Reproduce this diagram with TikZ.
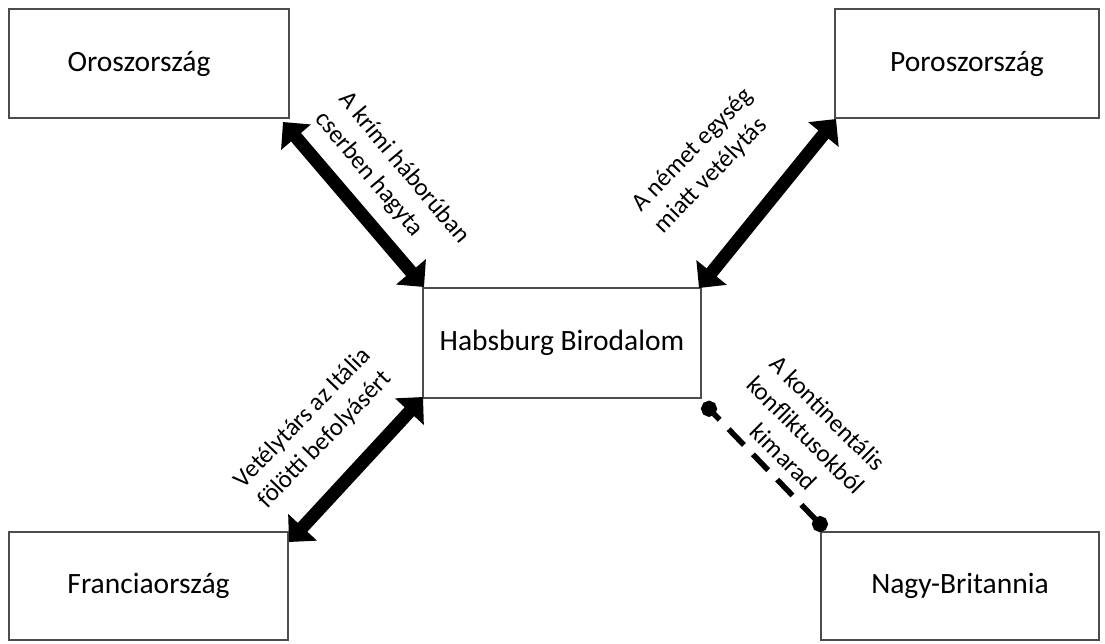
\documentclass[tikz,border=0pt]{standalone}
\usepackage{fontspec}
\setmainfont{Carlito}
\usetikzlibrary{arrows.meta}
\begin{document}
\begin{tikzpicture}[x=1pt,y=-1pt,
  box/.style={draw=black!70, line width=1.2pt, outer sep=0pt, inner sep=0pt,
    anchor=north west, font=\fontsize{29.5}{35}\selectfont},
  lbl/.style={font=\fontsize{25}{31}\selectfont, inner sep=0pt},
  bigarrow/.style={line width=13pt,
    {Triangle[width=38pt,length=20pt]}-{Triangle[width=38pt,length=20pt]}},
  dotline/.style={line width=5.5pt, dash pattern=on 22pt off 13pt, dash phase=12pt,
    {Circle[length=16pt]}-{Circle[length=16pt]}}]
\useasboundingbox (0,0) rectangle (1105,643);
% boxes
\node[box, minimum width=280pt, minimum height=109pt] (oro) at (9,9) {};
\node[font=\fontsize{29.5}{35}\selectfont] (orot) at (139,63.5) {Oroszország};
\node[box, minimum width=264pt, minimum height=109pt] (pro) at (835,9) {Poroszország};
\node[box, minimum width=278pt, minimum height=110pt] (hab) at (423,288) {Habsburg Birodalom};
\node[box, minimum width=279pt, minimum height=108pt] (fra) at (9,532) {Franciaország};
\node[box, minimum width=278pt, minimum height=108pt] (nb) at (821,532) {Nagy-Britannia};
% connectors
\coordinate (a1s) at ([shift={(-6,4)}]oro.south east);
\coordinate (a1e) at ([shift={(1,-1)}]hab.north west);
\draw[bigarrow] (a1s) -- (a1e);
\coordinate (a2s) at ([shift={(1,1)}]pro.south west);
\coordinate (a2e) at ([shift={(-2,0)}]hab.north east);
\draw[bigarrow] (a2s) -- (a2e);
\coordinate (a3s) at ([shift={(0,-1)}]hab.south west);
\coordinate (a3e) at ([shift={(1,10)}]fra.north east);
\draw[bigarrow] (a3s) -- (a3e);
\coordinate (a4s) at ([shift={(2.5,5)}]hab.south east);
\coordinate (a4e) at ([shift={(4.5,-2.2)}]nb.north west);
\draw[dotline] (a4s) -- (a4e);
% labels
\node[lbl, align=left, rotate=-50] (l1) at (392,178) {A krími háborúban\\cserben hagyta};
\node[lbl, align=left, rotate=46] (l2) at (704,161) {A német egység\\miatt vetélytás};
\node[lbl, align=center, rotate=46] (l3) at (314,429) {Vetélytárs az Itália\\fölötti befolyásért};
\node[lbl, align=center, rotate=-45] (l4) at (806,435) {A kontinentális\\konfliktusokból\\kimarad};
\end{tikzpicture}
\end{document}
